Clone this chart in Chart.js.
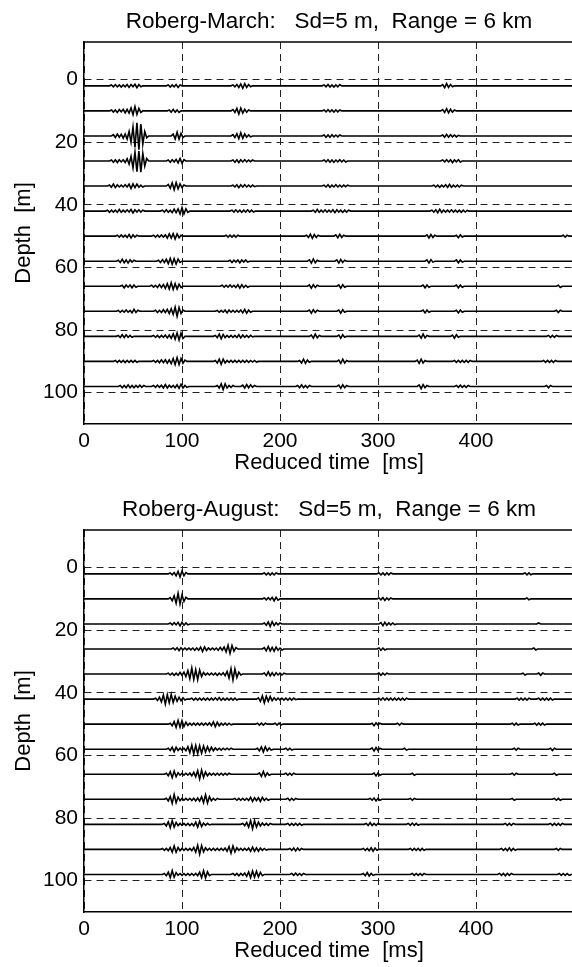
<!DOCTYPE html>
<html lang="en">
<head>
    <meta charset="UTF-8">
    <title>Roberg seismograms</title>
    <script src="https://cdn.jsdelivr.net/npm/chart.js"></script>
    <style>
        html, body { margin: 0; padding: 0; background: #fff; overflow: hidden; }
        canvas { position: absolute; left: 0; }
    </style>
</head>
<body>
    <canvas id="marchChart" width="580" height="488" style="top:0px"></canvas>
    <canvas id="augustChart" width="580" height="488" style="top:488px"></canvas>

    <script>
        // trace depths [m] and axis ticks
        var DEPTHS = [2, 10, 18, 26, 34, 42, 50, 58, 66, 74, 82, 90, 98];
        var Y_TICKS = [0, 20, 40, 60, 80, 100];
        var X_TICKS = [0, 100, 200, 300, 400];
        var SAMPLE_MS = 2;   // spacing of the amplitude samples in a packet
        var T_END = 500;

        // each trace: list of wave packets [start time ms, amplitudes in m]
        var MARCH_TRACES = [
            [[26, [0,.3,-.3,.4,-.3,.3,-.4,.3,-.3,.4,-.5,.4,-.3,.5,-.6,.4,-.3,0]], [84, [0,.3,-.4,.3,-.3,.4,-.5,.3,0]], [150, [0,.3,-.3,.4,-.5,.6,-.8,.7,-.5,.4,-.3,0]], [243, [0,.3,-.3,.4,-.4,.3,-.4,.3,-.3,.4,0]], [364, [0,.4,-.6,.7,-.5,.4,-.3,0]]],
            [[26, [0,.3,-.4,.3,-.5,.4,-.3,.5,-.6,.5,-.7,.9,-1.2,1.4,-1.1,.8,-.5,0]], [85, [0,.3,-.4,.5,-.4,.3,-.5,0]], [150, [0,.4,-.5,.8,-1,.9,-.7,.5,-.4,.3,0]], [243, [0,.3,-.3,.4,-.3,.3,-.4,.3,-.3,.3,0]], [364, [0,.4,-.5,.7,-.6,.5,-.4,.3,0]]],
            [[28, [0,.4,-.5,.6,-.4,.5,-.7,.6,-1,1.4,-2,2.8,-3.6,4.2,-4.4,3.8,-2.6,1.4,-.6,0]], [89, [0,.6,-1,1.2,-1,.8,-.5,0]], [150, [0,.4,-.5,.7,-.9,1,-.8,.6,-.4,.3,-.3,0]], [243, [0,.3,-.4,.3,-.4,.4,-.3,.3,-.3,.3,0]], [364, [0,.3,-.4,.5,-.4,.4,-.3,.3,-.3,.2,0]]],
            [[26, [0,.3,-.4,.4,-.5,.4,-.3,.4,-.5,.7,-1,1.5,-2.2,2.8,-3.4,3.2,-3.6,2.4,-1.6,.8,0]], [84, [0,.3,-.4,.4,-.3,.5,-.6,.8,-.7,.4,0]], [150, [0,.3,-.4,.4,-.5,.4,-.3,.4,-.3,.3,-.2,.3,0]], [243, [0,.3,-.3,.4,-.4,.3,-.4,.3,-.3,.4,-.3,.3,-.3,0]], [364, [0,.3,-.3,.4,-.3,.4,-.5,.3,-.3,.4,-.3,0]]],
            [[24, [0,.3,-.4,.6,-.5,.4,-.3,.3,-.3,.4,-.3,.6,-.8,.7,-.5,.6,-.4,.3,-.3,0]], [84, [0,.5,-.7,1,-1.2,1.1,-.9,.7,-.5,.3,0]], [150, [0,.3,-.3,.4,-.5,.4,-.3,.4,-.3,.3,-.3,.3,-.2,0]], [243, [0,.3,-.3,.4,-.4,.3,-.3,.4,-.3,.3,-.3,.3,-.2,.3,0]], [355, [0,.3,-.3,.3,-.4,.3,-.3,.4,-.4,.5,-.4,.3,-.3,.3,-.3,.3,0]]],
            [[22, [0,.3,-.4,.3,-.3,.3,-.4,.5,-.4,.3,-.3,.4,-.3,.5,-.6,.4,-.3,.4,-.3,.3,0]], [78, [0,.3,-.3,.4,-.4,.3,-.5,.6,-.5,.7,-.9,1.1,-.9,.7,-.4,0]], [149, [0,.3,-.3,.4,-.3,.3,-.4,.3,-.3,.4,-.3,.3,-.3,0]], [232, [0,.3,-.4,.5,-.4,.3,-.3,.4,-.3,.3,-.3,.4,-.5,.4,-.3,.3,-.4,.3,-.3,.3,0]], [353, [0,.3,-.3,.4,-.5,.6,-.4,.3,-.3,.3,-.3,.4,-.3,.3,-.3,.3,-.4,.3,-.3,.2,0]]],
            [[32, [0,.3,-.3,.4,-.3,.3,-.4,.5,-.6,.4,-.3,.3,0]], [69, [0,.3,-.3,.3,-.3,.4,-.3,.4,-.6,.7,-.6,.8,-.9,.7,-.5,.3,0]], [143, [0,.3,-.3,.3,-.3,.3,-.3,.3,0]], [225, [0,.3,-.4,.6,-.7,.5,-.4,.3,0]], [255, [0,.4,-.5,.6,-.4,.3,0]], [348, [0,.4,-.6,.5,-.4,.3,0]], [378, [0,.3,-.5,.4,-.3,0]], [487, [0,.3,-.3,.3,0]]],
            [[33, [0,.3,-.4,.6,-.5,.4,-.6,.4,-.3,.3,0]], [74, [0,.3,-.4,.5,-.4,.6,-.8,.9,-1,.8,-.9,.7,-.4,0]], [147, [0,.3,-.4,.3,-.3,.4,-.5,.4,-.3,.4,-.3,0]], [228, [0,.4,-.6,.7,-.5,.3,0]], [256, [0,.4,-.6,.5,-.4,.3,0]], [348, [0,.4,-.6,.5,-.3,0]], [378, [0,.4,-.5,.4,-.3,0]]],
            [[37, [0,.3,-.5,.4,-.3,.4,-.5,.4,-.3,0]], [67, [0,.3,-.3,.3,-.4,.5,-.4,.5,-.7,.8,-.9,1.1,-1,.8,-.9,.6,-.4,0]], [139, [0,.3,-.3,.3,-.3,.4,-.3,.3,-.4,.5,-.6,.5,-.4,.3,-.3,0]], [228, [0,.4,-.6,.5,-.4,.3,0]], [258, [0,.4,-.6,.5,-.3,0]], [344, [0,.4,-.5,.4,-.3,0]], [378, [0,.4,-.5,.4,-.3,0]], [482, [0,.3,-.4,0]]],
            [[33, [0,.3,-.3,.3,-.3,.4,-.3,.3,-.5,.6,-.4,.3,0]], [71, [0,.3,-.4,.3,-.4,.5,-.4,.6,-.7,.8,-1,1.3,-1.6,1.2,-.7,.4,0]], [134, [0,.3,-.3,.3,-.3,.4,-.5,.4,-.3,.3,-.3,.3,-.3,.4,-.5,.6,-.6,.4,-.3,0]], [228, [0,.4,-.6,.5,-.4,.3,0]], [258, [0,.4,-.6,.5,-.3,0]], [344, [0,.4,-.5,.4,-.3,0]], [378, [0,.3,-.5,.4,-.3,0]], [480, [0,.3,-.4,.3,0]]],
            [[33, [0,.3,-.4,.5,-.4,.5,-.3,.3,-.3,0]], [69, [0,.3,-.3,.3,-.4,.3,-.3,.4,-.5,.4,-.6,.8,-.9,1.1,-1.2,1,-.7,0]], [132, [0,.3,-.4,.7,-.8,.6,-.4,.3,-.3,.3,-.3,.3,-.4,.5,-.5,.4,-.3,.3,-.3,.3,-.2,0]], [230, [0,.4,-.6,.7,-.5,.3,0]], [258, [0,.4,-.6,.5,-.3,0]], [340, [0,.4,-.6,.7,-.5,.3,0]], [374, [0,.4,-.6,.5,-.3,0]], [472, [0,.3,-.3,.3,-.3,.3,0]]],
            [[30, [0,.3,-.3,.3,-.3,.3,-.4,.3,-.3,.3,-.3,.3,-.3,0]], [69, [0,.3,-.3,.3,-.4,.5,-.4,.5,-.6,.5,-.7,.9,-1,1.2,-1,.9,-.6,.4,0]], [132, [0,.3,-.5,.7,-.9,.7,-.5,.3,-.3,.3,-.3,.3,-.3,.3,-.3,.3,-.3,.3,-.3,.3,-.2,.3,-.2,0]], [218, [0,.3,-.5,.7,-.6,.4,-.3,0]], [258, [0,.4,-.6,.7,-.5,.3,0]], [338, [0,.4,-.6,.7,-.5,.3,0]], [376, [0,.3,-.3,.3,-.3,.3,-.3,.3,-.3,.3,0]], [467, [0,.3,-.3,.3,-.3,.3,-.3,.3,0]]],
            [[35, [0,.3,-.4,.3,-.4,.5,-.4,.3,-.4,.3,-.3,.4,-.3,.3,0]], [69, [0,.3,-.3,.4,-.3,.4,-.5,.6,-.5,.4,-.3,.3,-.4,.5,-.6,.7,-.5,.3,-.3,0]], [134, [0,.3,-.5,.8,-1,.8,-.5,.3,-.3,.3,0]], [160, [0,.4,-.5,.6,-.4,.5,-.3,.3,0]], [216, [0,.3,-.4,.5,-.4,.3,-.4,.3,0]], [258, [0,.4,-.6,.5,-.4,.3,0]], [340, [0,.5,-.7,.6,-.4,.3,0]], [378, [0,.3,-.3,.4,-.3,.3,-.3,.3,0]], [470, [0,.3,-.4,.3,0]]]
        ];

        var AUGUST_TRACES = [
            [[86, [0,.3,-.3,.4,-.6,.8,-1,.9,-.6,.4,0]], [182, [0,.3,-.3,.3,-.4,.3,-.3,.3,0]], [299, [0,.3,-.3,.3,-.4,.3,-.3,.3,0]], [448, [0,.3,-.3,.3,-.3,0]]],
            [[86, [0,.4,-.6,1,-1.4,1.8,-1.6,1.2,-.8,.5,0]], [182, [0,.3,-.3,.4,-.3,.5,-.6,.5,-.4,0]], [299, [0,.3,-.3,.4,-.5,.3,-.3,.3,0]], [450, [0,.3,-.3,0]]],
            [[86, [0,.3,-.3,.4,-.3,.5,-.6,.5,-.4,.3,-.3,0]], [182, [0,.3,-.4,.6,-.8,.7,-.5,.4,-.3,.3,0]], [301, [0,.4,-.6,.5,-.4,.3,-.3,.3,-.2,0]], [462, [0,.3,0]]],
            [[89, [0,.3,-.3,.4,-.5,.4,-.3,.3,-.3,.3,-.3,.3,-.4,.3,-.4,.6,-.8,.7,-.5,.3,-.3,.3,-.3,.3,-.4,.5,-.4,.6,-.9,1.2,-1.4,1.1,-.7,.4,0]], [182, [0,.4,-.6,.8,-.6,.5,-.7,.6,-.4,.3,-.3,0]], [299, [0,.3,-.4,.3,-.3,0]], [457, [0,.3,-.3,0]]],
            [[84, [0,.3,-.3,.3,-.4,.3,-.4,.5,-.4,.6,-.8,1.1,-1.5,1.9,-1.7,1.4,-1.8,1.3,-.8,.5,-.3,.3,-.3,.3,-.3,.3,-.4,.3,-.3,.4,-.5,.8,-1.3,1.7,-1.9,1.6,-1.1,.6,-.3,0]], [182, [0,.3,-.5,.7,-.6,.4,-.5,.4,-.3,.3,-.3,.3,0]], [299, [0,.3,-.4,.3,-.3,.3,0]], [446, [0,.3,-.3,0]], [462, [0,.3,-.4,.3,0]]],
            [[71, [0,.3,-.4,.6,-.9,1.3,-1.6,1.4,-1.2,1.5,-1.1,.9,-.7,.6,-.5,.4,-.3,0]], [108, [0,.3,-.3,.3,-.3,.3,-.3,.3,-.3,.3,-.3,.3,-.3,.4,-.3,.5,-.4,.3,-.3,.3,-.3,.3,-.3,.3,-.3,0]], [176, [0,.4,-.7,1,-1.2,.9,-.7,.8,-.5,.4,-.3,.3,-.3,.3,-.3,.3,-.3,.3,-.3,.3,-.2,0]], [299, [0,.3,-.3,.4,-.3,.3,-.3,.3,-.3,.3,-.3,.3,-.3,.3,-.3,.3,0]], [440, [0,.3,-.3,.3,-.3,.3,-.3,.3,0]], [462, [0,.3,-.3,.3,-.3,.3,-.3,.3,-.3,0]]],
            [[86, [0,.3,-.5,.8,-1,1.2,-1,1.1,-.8,.6,-.4,.3,-.3,.3,-.3,.3,-.3,.3,-.3,.3,-.3,.4,-.5,.7,-.8,.6,-.5,.3,-.3,.3,-.3,.3,-.2,0]], [175, [0,.3,-.3,.3,-.3,.3,0]], [193, [0,.3,-.3,.3,-.3,0]], [292, [0,.3,-.5,.4,-.3,.3,0]], [318, [0,.3,-.3,.3,0]], [435, [0,.3,-.3,.3,-.3,0]], [458, [0,.3,-.3,.3,-.3,.3,-.3,0]]],
            [[84, [0,.3,-.4,.6,-.8,.6,-.4,.3,-.3,.3,-.5,.8,-1.1,1.3,-1.5,1.2,-1.4,1.1,-1.3,1,-.9,.8,-.7,.6,-.5,.4,-.3,.3,-.3,.3,-.2,.3,-.2,.3,0]], [175, [0,.3,-.5,.7,-.9,.8,-.5,.4,-.3,0]], [204, [0,.3,-.3,.3,-.3,0]], [292, [0,.4,-.6,.5,-.4,.3,0]], [325, [0,.3,-.3,0]], [437, [0,.3,-.3,.3,0]], [474, [0,.3,-.4,.3,0]]],
            [[82, [0,.3,-.5,.8,-1.1,1,-.8,.5,-.3,.3,-.3,.3,-.3,.4,-.5,.6,-.8,1.1,-1.5,1.3,-1,.7,-.5,.3,-.3,.3,-.3,.3,-.3,.3,-.3,.3,-.2,.3,0]], [177, [0,.4,-.7,.9,-.7,.4,-.3,0]], [204, [0,.3,-.3,.3,-.3,.3,0]], [294, [0,.4,-.5,.4,-.3,0]], [333, [0,.3,-.3,0]], [435, [0,.3,-.3,.3,0]], [478, [0,.3,-.3,0]]],
            [[82, [0,.3,-.5,.9,-1.3,1.5,-1.1,.7,-.4,.3,-.3,.3,-.3,.3,-.4,.3,-.5,.4,-.6,.8,-1.1,1.4,-1.2,.8,-.5,.3,-.3,.3,0]], [152, [0,.3,-.3,.3,-.3,.3,-.3,.3,-.4,.6,-.7,.5,-.4,.5,-.7,.6,-.4,.3,-.3,0]], [206, [0,.3,-.4,.3,-.3,.3,0]], [290, [0,.3,-.3,.4,-.5,.3,-.3,0]], [331, [0,.3,-.3,.3,0]], [435, [0,.3,-.3,0]], [478, [0,.3,-.3,.3,-.3,0]]],
            [[80, [0,.3,-.5,.8,-1.1,1.2,-.9,.6,-.4,.3,-.3,.3,-.3,.3,-.4,.3,-.5,.7,-.9,1,-.7,.4,-.3,.3,-.2,0]], [160, [0,.3,-.4,.6,-.9,1.2,-1.4,1.2,-.9,.7,-.5,.4,-.3,.3,-.3,.3,0]], [206, [0,.3,-.3,.3,-.3,.3,-.3,.3,-.3,0]], [286, [0,.3,-.4,.5,-.4,.3,-.3,.3,0]], [329, [0,.3,-.3,.4,-.3,.3,-.3,0]], [428, [0,.3,-.3,.3,-.3,.3,0]], [474, [0,.3,-.3,.3,-.3,.3,-.3,.3,0]]],
            [[78, [0,.3,-.3,.3,-.4,.6,-.9,1.1,-.9,.6,-.4,.3,-.3,.3,-.3,.3,-.4,.6,-.9,1.3,-1.5,1.2,-.8,.5,-.3,.3,-.3,.3,-.3,.3,-.3,.3,-.3,.4,-.6,.9,-1.2,1.1,-.8,.5,-.3,.3,-.3,.3,-.3,.4,-.6,.7,-.6,.5,-.6,.4,-.3,.3,-.2,0]], [208, [0,.3,-.3,.4,-.5,.4,-.3,.3,0]], [283, [0,.3,-.3,.3,-.4,.5,-.6,.4,-.3,0]], [331, [0,.3,-.3,.3,-.3,.3,-.4,.3,-.3,0]], [424, [0,.3,-.3,.3,-.4,.5,-.4,.3,-.3,0]], [480, [0,.3,-.3,.3,0]]],
            [[80, [0,.3,-.4,.7,-1,1.2,-.9,.6,-.3,.3,-.3,.3,-.3,.3,-.3,.3,-.3,.3,-.4,.7,-1,1.2,-1.1,.8,-.4,0]], [150, [0,.3,-.3,.3,-.4,.3,-.3,.4,-.6,.8,-1,1.1,-.9,1,-.8,.6,-.4,0]], [210, [0,.3,-.3,.4,-.3,.3,-.3,.3,0]], [283, [0,.3,-.4,.6,-.5,.3,-.3,0]], [333, [0,.3,-.3,.3,-.3,.3,-.3,.3,0]], [422, [0,.3,-.3,.3,-.4,.3,-.3,.3,0]], [483, [0,.3,-.3,.3,-.3,.3,-.3,0]]]
        ];

        var FONT = 'Liberation Sans, Arial, Helvetica, sans-serif';

        function traceData(depth, packets) {
            var pts = [{x: 0, y: depth}];
            packets.forEach(function(p) {
                p[1].forEach(function(a, i) {
                    pts.push({x: p[0] + i * SAMPLE_MS, y: depth - a});
                });
            });
            pts.push({x: T_END, y: depth});
            return pts;
        }

        // top edge of the axes box (left and bottom come from the axes)
        var boxPlugin = {
            id: 'box',
            afterDraw: function(chart) {
                var a = chart.chartArea, ctx = chart.ctx;
                ctx.save();
                ctx.strokeStyle = '#000';
                ctx.lineWidth = 1.5;
                ctx.beginPath();
                ctx.moveTo(a.left, a.top);
                ctx.lineTo(a.right, a.top);
                ctx.stroke();
                ctx.restore();
            }
        };

        function makeChart(id, title, traces) {
            var ctx = document.getElementById(id).getContext('2d');
            return new Chart(ctx, {
                type: 'line',
                data: {
                    datasets: traces.map(function(tr, k) {
                        return {
                            label: DEPTHS[k] + ' m',
                            data: traceData(DEPTHS[k], tr),
                            borderColor: '#000',
                            borderWidth: 1.6,
                            pointRadius: 0,
                            tension: 0,
                            fill: false
                        };
                    })
                },
                plugins: [boxPlugin],
                options: {
                    responsive: false,
                    animation: false,
                    devicePixelRatio: 1,
                    layout: { padding: { left: 0, right: 6, top: 0, bottom: 0 } },
                    plugins: {
                        legend: { display: false },
                        tooltip: { enabled: false },
                        title: {
                            display: true,
                            fullSize: false,
                            text: title,
                            color: '#000',
                            font: { family: FONT, size: 22.5, weight: 'normal', lineHeight: 1.2 },
                            padding: { top: 8.5, bottom: 6.5 }
                        }
                    },
                    scales: {
                        x: {
                            type: 'linear',
                            min: 0,
                            max: T_END,
                            afterBuildTicks: function(axis) {
                                axis.ticks = X_TICKS.map(function(v) { return {value: v}; });
                            },
                            afterFit: function(scale) { scale.height = 64; },
                            grid: { color: '#222', lineWidth: 1, drawTicks: false },
                            border: { display: true, color: '#000', width: 1.5, dash: [7, 5] },
                            ticks: { color: '#000', padding: 5, maxRotation: 0, font: { family: FONT, size: 21 } },
                            title: {
                                display: true,
                                text: 'Reduced time  [ms]',
                                color: '#000',
                                font: { family: FONT, size: 22 },
                                padding: { top: 0, bottom: 11.8 }
                            }
                        },
                        y: {
                            type: 'linear',
                            reverse: true,
                            min: -12,
                            max: 110,
                            afterBuildTicks: function(axis) {
                                axis.ticks = Y_TICKS.map(function(v) { return {value: v}; });
                            },
                            afterFit: function(scale) { scale.width = 84; },
                            grid: { color: '#222', lineWidth: 1, drawTicks: false },
                            border: { display: true, color: '#000', width: 1.5, dash: [7, 5] },
                            ticks: { color: '#000', padding: 6, font: { family: FONT, size: 21 } },
                            title: {
                                display: true,
                                text: 'Depth  [m]',
                                color: '#000',
                                font: { family: FONT, size: 22 },
                                padding: { top: 10.8, bottom: 0 }
                            }
                        }
                    }
                }
            });
        }

        makeChart('marchChart', 'Roberg-March:   Sd=5 m,  Range = 6 km', MARCH_TRACES);
        makeChart('augustChart', 'Roberg-August:   Sd=5 m,  Range = 6 km', AUGUST_TRACES);
    </script>
</body>
</html>
